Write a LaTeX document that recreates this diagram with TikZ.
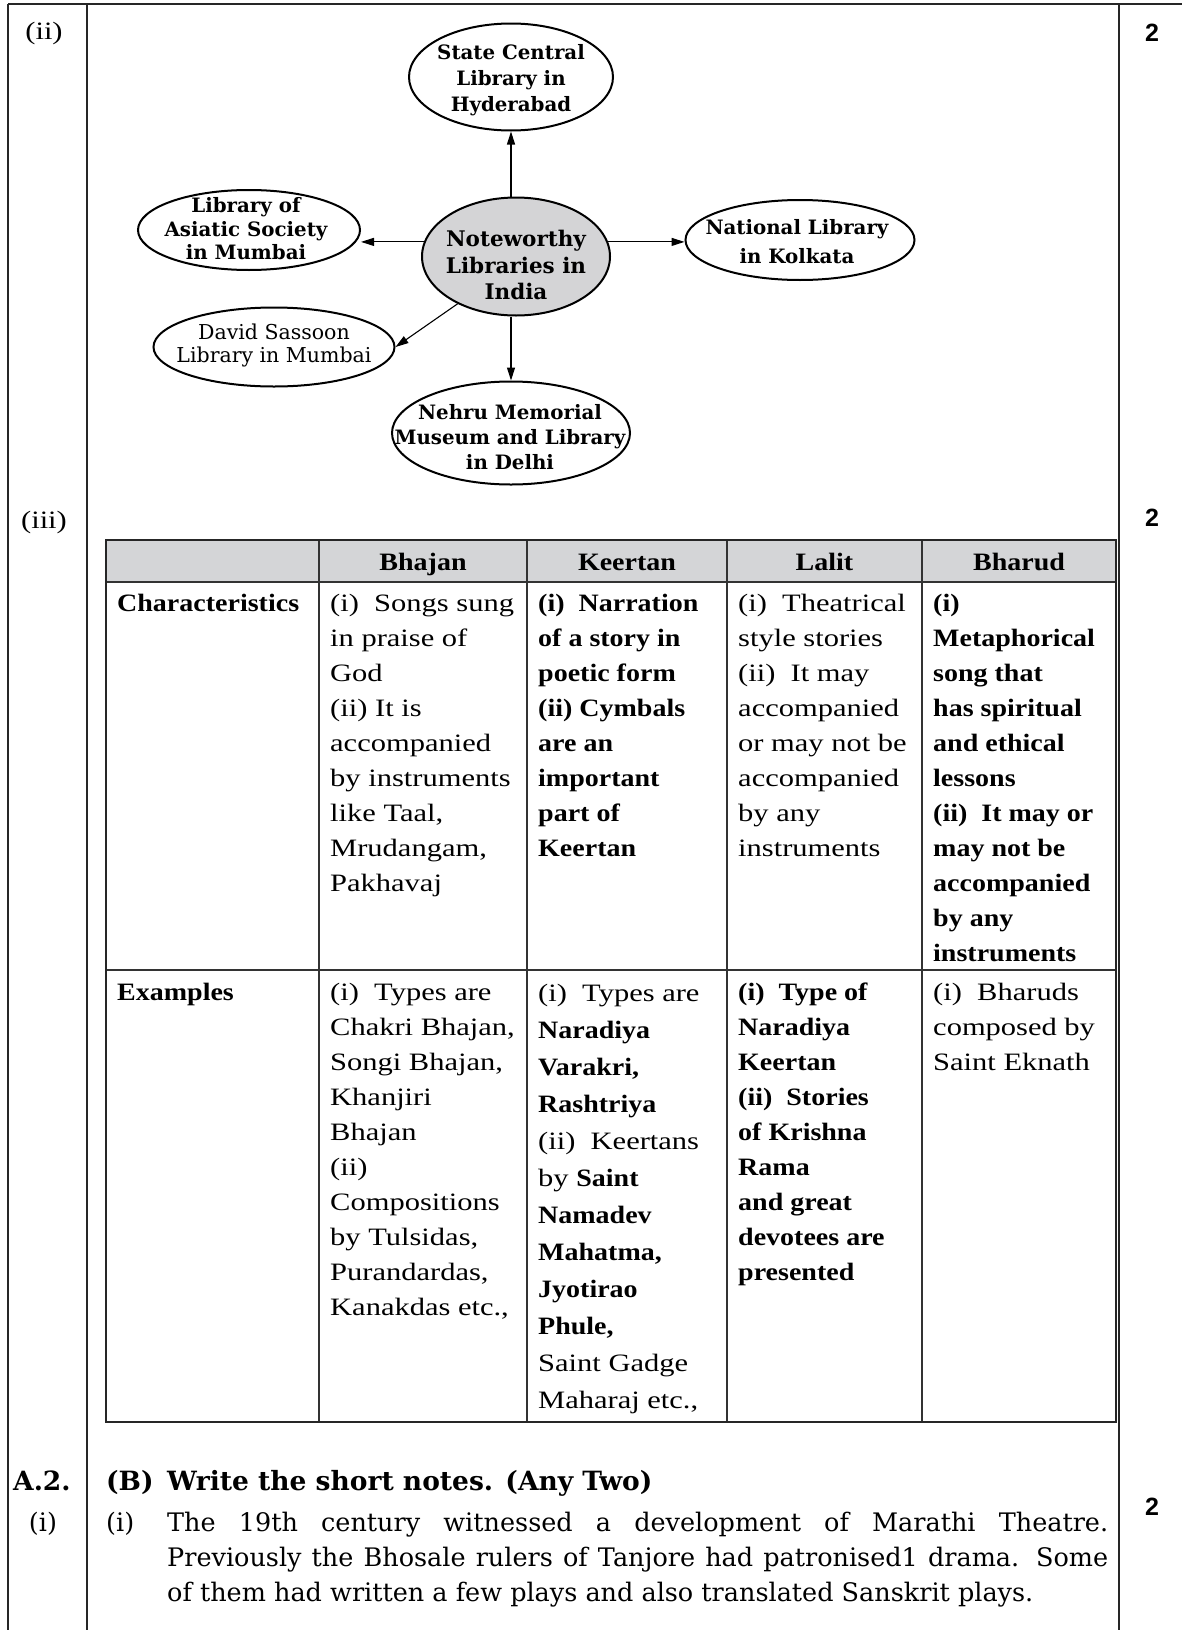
\documentclass[tikz,border=0pt]{standalone}
\usepackage{fontspec}
\setmainfont{Liberation Serif}
\newfontfamily\tabrm{Liberation Serif}[FakeStretch=1.22]
\newfontfamily\tabbf{Liberation Serif}[FakeStretch=1.12]
\newfontfamily\slab{DejaVu Serif}
\newfontfamily\numsf{Liberation Sans}
\usetikzlibrary{arrows.meta,shapes.geometric}
\definecolor{headgray}{RGB}{212,213,215}
\definecolor{hubgray}{RGB}{212,212,214}
\newcommand\tb[1]{{\tabbf\bfseries #1}}
\tikzset{
  boxline/.style={line width=2.3pt,draw=black!85},
  tline/.style={line width=1.8pt,draw=black!80},
  touter/.style={line width=2.6pt,draw=black!85},
  bub/.style={ellipse,draw,line width=2pt,inner sep=0pt},
  bubtxt/.style={inner sep=0pt,align=center,font=\slab\bfseries\fontsize{19.8}{25}\selectfont},
  flow/.style={-{Triangle[length=13pt,width=8pt]},line width=1.1pt},
  tcell/.style={anchor=north west,inner sep=0pt,align=left,font=\tabrm\fontsize{25}{35}\selectfont},
  headcell/.style={anchor=base,inner sep=0pt,font=\tabbf\bfseries\fontsize{25}{35}\selectfont},
  sidelbl/.style={inner sep=0pt,font=\tabrm\fontsize{25}{30}\selectfont},
  numtwo/.style={inner sep=0pt,font=\numsf\bfseries\fontsize{25}{30}\selectfont},
  slabbf/.style={anchor=base west,inner sep=0pt,font=\slab\bfseries\fontsize{26.5}{35}\selectfont},
  slabrm/.style={anchor=base west,inner sep=0pt,font=\slab\fontsize{25.5}{35}\selectfont},
}
\begin{document}
\begin{tikzpicture}[x=1pt,y=-1pt]
\useasboundingbox (0,0) rectangle (1182,1630);
% page frame
\draw[boxline] (8,4) -- (1182,4);
\draw[boxline] (8,4) -- (8,1630);
\draw[boxline] (87,4) -- (87,1630);
\draw[boxline] (1119,4) -- (1119,1630);
\node[sidelbl] (lii) at (44,33) {(ii)};
\node[sidelbl] (liii) at (44,522) {(iii)};
\node[numtwo] (mk1) at (1152,33) {2};
\node[numtwo] (mk2) at (1152,518) {2};
\node[numtwo] (mk3) at (1152,1507) {2};

% mind map
\node[bub,fill=hubgray,minimum width=188pt,minimum height=118pt] (hub) at (516,256.5) {};
\node[bubtxt,font=\slab\bfseries\fontsize{21.5}{26.5}\selectfont] (hubt) at (516,265) {Noteworthy\\Libraries in\\India};
\node[bub,minimum width=204pt,minimum height=107pt] (scl) at (511,77) {};
\node[bubtxt,font=\slab\bfseries\fontsize{19.8}{26}\selectfont] (sclt) at (511,80) {State Central\\Library in\\Hyderabad};
\node[bub,minimum width=222pt,minimum height=80pt] (asi) at (249,230) {};
\node[bubtxt,font=\slab\bfseries\fontsize{19.8}{23.5}\selectfont] (asit) at (246,229) {Library of\\Asiatic Society\\in Mumbai};
\node[bub,minimum width=229pt,minimum height=80pt] (nat) at (800,240) {};
\node[bubtxt,font=\slab\bfseries\fontsize{19.8}{29}\selectfont] (natt) at (797,242) {National Library\\in Kolkata};
\node[bub,minimum width=241pt,minimum height=79pt] (dsl) at (274,347) {};
\node[bubtxt,font=\slab\fontsize{20.5}{23}\selectfont] (dslt) at (274,345) {David Sassoon\\Library in Mumbai};
\node[bub,minimum width=238pt,minimum height=103pt] (neh) at (511,433) {};
\node[bubtxt] (neht) at (510,437) {Nehru Memorial\\Museum and Library\\in Delhi};

\draw[flow] (scl.south |- hub.north) -- (scl.south);
\draw[flow] (neh.north |- hub.south) -- (neh.north);
\draw[flow] (hub.171) -- (hub.171 -| asi.east);
\draw[flow] (hub.9) -- (hub.9 -| nat.west);
\draw[flow] (hub.219) -- (dsl.east);

% table
\fill[headgray] (106,540) rectangle (1116,582);
\draw[tline] (106,582) -- (1116,582);
\draw[tline] (106,970) -- (1116,970);
\foreach \x in {319,527,727,922}
  \draw[tline] (\x,540) -- (\x,1422);
\draw[touter] (106,540) rectangle (1116,1422);

\node[headcell] (hbh) at (423,570) {Bhajan};
\node[headcell] (hke) at (627,570) {Keertan};
\node[headcell] (hla) at (824.5,570) {Lalit};
\node[headcell] (hbr) at (1019,570) {Bharud};

\node[tcell] (rch) at (117,586.5) {\strut\tb{Characteristics}};
\node[tcell] (rex) at (117,975.5) {\strut\tb{Examples}};

\node[tcell] (cbh1) at (330,586.5) {\strut(i)~ Songs sung\\in praise of\\God\\(ii) It is\\accompanied\\by instruments\\like Taal,\\Mrudangam,\\Pakhavaj};
\node[tcell] (cke1) at (538,586.5) {\strut\tb{(i)~ Narration}\\\tb{of a story in}\\\tb{poetic form}\\\tb{(ii) Cymbals}\\\tb{are an}\\\tb{important}\\\tb{part of}\\\tb{Keertan}};
\node[tcell] (cla1) at (738,586.5) {\strut(i)~ Theatrical\\style stories\\(ii)~ It may\\accompanied\\or may not be\\accompanied\\by any\\instruments};
\node[tcell] (cbr1) at (933,586.5) {\strut\tb{(i)}\\\tb{Metaphorical}\\\tb{song that}\\\tb{has spiritual}\\\tb{and ethical}\\\tb{lessons}\\\tb{(ii)~ It may or}\\\tb{may not be}\\\tb{accompanied}\\\tb{by any}\\\tb{instruments}};

\node[tcell] (cbh2) at (330,975.5) {\strut(i)~ Types are\\Chakri Bhajan,\\Songi Bhajan,\\Khanjiri\\Bhajan\\(ii)\\Compositions\\by Tulsidas,\\Purandardas,\\Kanakdas etc.,};
\node[tcell,font=\tabrm\fontsize{25}{37}\selectfont] (cke2) at (538,975.5) {\strut(i)~ Types are\\\tb{Naradiya}\\\tb{Varakri,}\\\tb{Rashtriya}\\(ii)~ Keertans\\by \tb{Saint}\\\tb{Namadev}\\\tb{Mahatma,}\\\tb{Jyotirao}\\\tb{Phule,}\\Saint Gadge\\Maharaj etc.,};
\node[tcell] (cla2) at (738,975.5) {\strut\tb{(i)~ Type of}\\\tb{Naradiya}\\\tb{Keertan}\\\tb{(ii)~ Stories}\\\tb{of Krishna}\\\tb{Rama}\\\tb{and great}\\\tb{devotees are}\\\tb{presented}};
\node[tcell] (cbr2) at (933,975.5) {\strut(i)~ Bharuds\\composed by\\Saint Eknath};

% short notes
\node[slabbf] (qa2) at (13,1490) {A.2.};
\node[slabrm,anchor=base] (qai) at (43,1531) {(i)};
\node[slabbf] (qb) at (106,1490) {(B)};
\node[slabbf] (qbt) at (167,1490) {Write the short notes. (Any Two)};
\node[slabrm] (qbi) at (106,1531) {(i)};
\node[anchor=north west,inner sep=0pt,align=left,font=\slab\fontsize{25.5}{35}\selectfont] (note) at (167,1506.5)
  {\strut\makebox[941pt][s]{The 19th century witnessed a development of Marathi Theatre.}\\
   \makebox[941pt][s]{Previously the Bhosale rulers of Tanjore had patronised1 drama. Some}\\
   of them had written a few plays and also translated Sanskrit plays.};
\end{tikzpicture}
\end{document}
